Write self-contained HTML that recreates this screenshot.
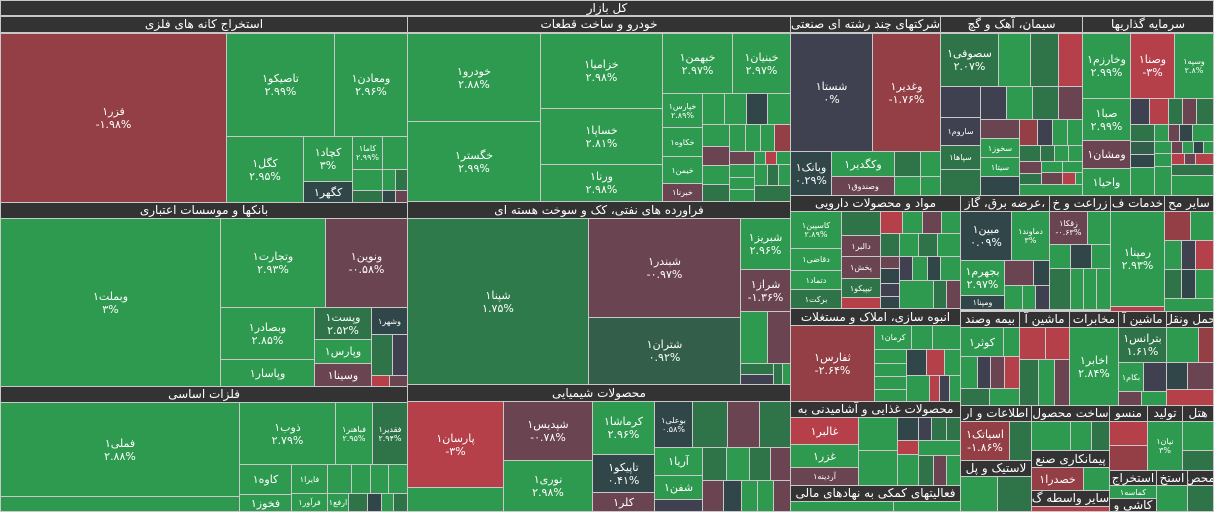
<!DOCTYPE html>
<html><head><meta charset="utf-8">
<style>
body{margin:0;width:1214px;height:512px;overflow:hidden;background:#d0d0d0;font-family:"DejaVu Sans","Noto Sans CJK SC",sans-serif}
.t{position:absolute;box-sizing:border-box;border:1px solid #c8c8c8;color:#fff;display:flex;flex-direction:column;align-items:center;justify-content:center;font-size:11px;line-height:13px;text-align:center;overflow:hidden;background:#2e9a4f;white-space:nowrap}
.h{background:#333;font-size:12px;direction:rtl}
.s{font-size:8px;line-height:9px}
.G{background:#2e9a4f}.D{background:#2f7448}.M{background:#335f4a}.R{background:#933f45}.RR{background:#b5404a}.P{background:#6a4450}.S{background:#3f4150}.T{background:#304649}.F{background:#e03030}
</style></head><body>
<div class="t h" style="left:0;top:0;width:1214px;height:16px">کل بازار</div>

<!-- col1 -->
<div class="t h" style="left:0;top:16px;width:408px;height:17px">استخراج کانه های فلزی</div>
<div class="t R" style="left:0;top:33px;width:227px;height:170px">فزر۱<br>-۱.۹۸%</div>
<div class="t G" style="left:226px;top:33px;width:109px;height:104px">تاصیکو۱<br>۲.۹۹%</div>
<div class="t G" style="left:334px;top:33px;width:74px;height:104px">ومعادن۱<br>۲.۹۶%</div>
<div class="t G" style="left:226px;top:136px;width:78px;height:67px">کگل۱<br>۲.۹۵%</div>
<div class="t G" style="left:303px;top:136px;width:50px;height:46px">کچاد۱<br>۳%</div>
<div class="t T" style="left:303px;top:181px;width:50px;height:22px">کگهر۱</div>
<div class="t G s" style="left:352px;top:136px;width:31px;height:34px">کاما۱<br>۲.۹۹%</div>
<div class="t G" style="left:382px;top:136px;width:26px;height:34px"></div>
<div class="t G" style="left:352px;top:169px;width:31px;height:22px"></div>
<div class="t D" style="left:352px;top:190px;width:31px;height:13px"></div>
<div class="t G" style="left:382px;top:169px;width:14px;height:22px"></div>
<div class="t D" style="left:395px;top:169px;width:13px;height:22px"></div>
<div class="t T" style="left:382px;top:190px;width:14px;height:13px"></div>
<div class="t P" style="left:395px;top:190px;width:13px;height:13px"></div>

<div class="t h" style="left:0;top:202px;width:408px;height:17px">بانکها و موسسات اعتباری</div>
<div class="t G" style="left:0;top:218px;width:221px;height:169px">وبملت۱<br>۳%</div>
<div class="t G" style="left:220px;top:218px;width:106px;height:90px">وتجارت۱<br>۲.۹۳%</div>
<div class="t P" style="left:325px;top:218px;width:83px;height:90px">ونوین۱<br>-۰.۵۸%</div>
<div class="t G" style="left:220px;top:307px;width:95px;height:53px">وبصادر۱<br>۲.۸۵%</div>
<div class="t G" style="left:220px;top:359px;width:95px;height:28px">وپاسار۱</div>
<div class="t D" style="left:314px;top:307px;width:58px;height:33px">وپست۱<br>۲.۵۲%</div>
<div class="t G" style="left:314px;top:339px;width:58px;height:25px">وپارس۱</div>
<div class="t P" style="left:314px;top:363px;width:58px;height:24px">وسینا۱</div>
<div class="t T s" style="left:371px;top:307px;width:37px;height:28px">وشهر۱</div>
<div class="t D" style="left:371px;top:334px;width:22px;height:42px"></div>
<div class="t S" style="left:392px;top:334px;width:16px;height:42px"></div>
<div class="t RR" style="left:371px;top:375px;width:19px;height:12px"></div>
<div class="t P" style="left:389px;top:375px;width:19px;height:12px"></div>

<div class="t h" style="left:0;top:386px;width:408px;height:17px">فلزات اساسی</div>
<div class="t G" style="left:0;top:402px;width:240px;height:95px">فملی۱<br>۲.۸۸%</div>
<div class="t G" style="left:0;top:496px;width:240px;height:16px"></div>
<div class="t G" style="left:239px;top:402px;width:97px;height:63px">ذوب۱<br>۲.۷۹%</div>
<div class="t G s" style="left:335px;top:402px;width:38px;height:63px">فباهنر۱<br>۲.۹۵%</div>
<div class="t D s" style="left:372px;top:402px;width:36px;height:63px">فقدیر۱<br>۲.۹۴%</div>
<div class="t G" style="left:239px;top:464px;width:53px;height:31px">کاوه۱</div>
<div class="t G s" style="left:291px;top:464px;width:37px;height:30px">فایرا۱</div>
<div class="t G" style="left:239px;top:494px;width:53px;height:18px">فخوز۱</div>
<div class="t G s" style="left:291px;top:493px;width:37px;height:19px">فرآور۱</div>
<div class="t G" style="left:327px;top:464px;width:25px;height:30px"></div>
<div class="t G" style="left:351px;top:464px;width:20px;height:30px"></div>
<div class="t G" style="left:370px;top:464px;width:19px;height:30px"></div>
<div class="t G" style="left:388px;top:464px;width:20px;height:30px"></div>
<div class="t G s" style="left:327px;top:493px;width:22px;height:19px">ارفع۱</div>
<div class="t D" style="left:348px;top:493px;width:20px;height:19px"></div>
<div class="t T" style="left:367px;top:493px;width:15px;height:19px"></div>
<div class="t G" style="left:381px;top:493px;width:13px;height:19px"></div>
<div class="t D" style="left:393px;top:493px;width:15px;height:19px"></div>

<!-- col2 -->
<div class="t h" style="left:407px;top:16px;width:384px;height:17px">خودرو و ساخت قطعات</div>
<div class="t G" style="left:407px;top:33px;width:134px;height:89px">خودرو۱<br>۲.۸۸%</div>
<div class="t G" style="left:407px;top:121px;width:134px;height:81px">خگستر۱<br>۲.۹۹%</div>
<div class="t G" style="left:540px;top:33px;width:123px;height:76px">خزامیا۱<br>۲.۹۸%</div>
<div class="t G" style="left:540px;top:108px;width:123px;height:57px">خساپا۱<br>۲.۸۱%</div>
<div class="t G" style="left:540px;top:164px;width:123px;height:38px">ورنا۱<br>۲.۹۸%</div>
<div class="t G" style="left:662px;top:33px;width:71px;height:61px">خبهمن۱<br>۲.۹۷%</div>
<div class="t G" style="left:732px;top:33px;width:59px;height:61px">خبنیان۱<br>۲.۹۷%</div>
<div class="t G s" style="left:662px;top:93px;width:41px;height:35px">خپارس۱<br>۲.۸۹%</div>
<div class="t G s" style="left:662px;top:127px;width:41px;height:30px">خکاوه۱</div>
<div class="t G s" style="left:662px;top:156px;width:41px;height:28px">خیمن۱</div>
<div class="t P s" style="left:662px;top:183px;width:41px;height:19px">خبرنا۱</div>
<div class="t G" style="left:702px;top:93px;width:23px;height:32px"></div>
<div class="t G" style="left:724px;top:93px;width:23px;height:32px"></div>
<div class="t T" style="left:746px;top:93px;width:22px;height:32px"></div>
<div class="t G" style="left:767px;top:93px;width:24px;height:32px"></div>
<div class="t G" style="left:702px;top:124px;width:28px;height:23px"></div>
<div class="t G" style="left:729px;top:124px;width:17px;height:28px"></div>
<div class="t G" style="left:745px;top:124px;width:16px;height:28px"></div>
<div class="t G" style="left:760px;top:124px;width:15px;height:28px"></div>
<div class="t R" style="left:774px;top:124px;width:17px;height:28px"></div>
<div class="t P" style="left:702px;top:146px;width:28px;height:20px"></div>
<div class="t G" style="left:702px;top:165px;width:28px;height:20px"></div>
<div class="t D" style="left:702px;top:184px;width:28px;height:18px"></div>
<div class="t P" style="left:729px;top:151px;width:26px;height:14px"></div>
<div class="t G" style="left:754px;top:151px;width:12px;height:14px"></div>
<div class="t RR" style="left:765px;top:151px;width:12px;height:14px"></div>
<div class="t G" style="left:776px;top:151px;width:15px;height:14px"></div>
<div class="t G" style="left:729px;top:164px;width:26px;height:14px"></div>
<div class="t G" style="left:729px;top:177px;width:26px;height:13px"></div>
<div class="t G" style="left:729px;top:189px;width:26px;height:13px"></div>
<div class="t G" style="left:754px;top:164px;width:14px;height:22px"></div>
<div class="t D" style="left:767px;top:164px;width:12px;height:22px"></div>
<div class="t G" style="left:778px;top:164px;width:13px;height:22px"></div>
<div class="t D" style="left:754px;top:185px;width:37px;height:17px"></div>

<div class="t h" style="left:407px;top:201px;width:384px;height:18px">فراورده های نفتی، کک و سوخت هسته ای</div>
<div class="t D" style="left:407px;top:218px;width:182px;height:167px;background:#2f7a4a">شپنا۱<br>۱.۷۵%</div>
<div class="t P" style="left:588px;top:218px;width:153px;height:100px">شبندر۱<br>-۰.۹۷%</div>
<div class="t M" style="left:588px;top:317px;width:153px;height:68px">شتران۱<br>۰.۹۲%</div>
<div class="t G" style="left:740px;top:218px;width:51px;height:52px">شبریز۱<br>۲.۹۶%</div>
<div class="t P" style="left:740px;top:269px;width:51px;height:43px">شراز۱<br>-۱.۳۶%</div>
<div class="t G" style="left:740px;top:311px;width:28px;height:53px"></div>
<div class="t P" style="left:767px;top:311px;width:24px;height:53px"></div>
<div class="t D" style="left:740px;top:363px;width:34px;height:12px"></div>
<div class="t S" style="left:740px;top:374px;width:34px;height:11px"></div>
<div class="t D" style="left:773px;top:363px;width:10px;height:22px"></div>
<div class="t G" style="left:782px;top:363px;width:9px;height:22px"></div>

<div class="t h" style="left:407px;top:384px;width:384px;height:18px">محصولات شیمیایی</div>
<div class="t RR" style="left:407px;top:401px;width:97px;height:87px">پارسان۱<br>-۳%</div>
<div class="t G" style="left:407px;top:487px;width:97px;height:25px"></div>
<div class="t P" style="left:503px;top:401px;width:90px;height:60px">شپدیس۱<br>-۰.۷۸%</div>
<div class="t G" style="left:503px;top:460px;width:90px;height:52px">نوری۱<br>۲.۹۸%</div>
<div class="t G" style="left:592px;top:401px;width:63px;height:54px">کرماشا۱<br>۲.۹۶%</div>
<div class="t T" style="left:592px;top:454px;width:63px;height:39px">تاپیکو۱<br>۰.۴۱%</div>
<div class="t P" style="left:592px;top:492px;width:63px;height:20px">کلر۱</div>
<div class="t T s" style="left:654px;top:401px;width:39px;height:47px">بوعلی۱<br>۰.۵۸%</div>
<div class="t D" style="left:692px;top:401px;width:36px;height:47px"></div>
<div class="t P" style="left:727px;top:401px;width:33px;height:47px"></div>
<div class="t D" style="left:759px;top:401px;width:32px;height:47px"></div>
<div class="t G" style="left:654px;top:447px;width:49px;height:29px">آریا۱</div>
<div class="t G" style="left:654px;top:475px;width:49px;height:25px">شفن۱</div>
<div class="t S" style="left:654px;top:499px;width:49px;height:13px"></div>
<div class="t D" style="left:702px;top:447px;width:25px;height:34px"></div>
<div class="t G" style="left:726px;top:447px;width:24px;height:34px"></div>
<div class="t D" style="left:749px;top:447px;width:22px;height:34px"></div>
<div class="t P" style="left:770px;top:447px;width:21px;height:34px"></div>
<div class="t P" style="left:702px;top:480px;width:22px;height:32px"></div>
<div class="t T" style="left:723px;top:480px;width:19px;height:32px"></div>
<div class="t G" style="left:741px;top:480px;width:17px;height:32px"></div>
<div class="t G" style="left:757px;top:480px;width:17px;height:32px"></div>
<div class="t P" style="left:773px;top:480px;width:18px;height:32px"></div>

<!-- col3 top -->
<div class="t h" style="left:790px;top:16px;width:151px;height:17px">شرکتهای چند رشته ای صنعتی</div>
<div class="t S" style="left:790px;top:33px;width:83px;height:119px">شستا۱<br>۰%</div>
<div class="t R" style="left:872px;top:33px;width:69px;height:119px">وغدیر۱<br>-۱.۷۶%</div>
<div class="t T" style="left:790px;top:151px;width:42px;height:45px">وبانک۱<br>۰.۲۹%</div>
<div class="t G" style="left:831px;top:151px;width:64px;height:26px">وکگدیر۱</div>
<div class="t P s" style="left:831px;top:176px;width:64px;height:20px">وصندوق۱</div>
<div class="t D" style="left:894px;top:151px;width:27px;height:26px"></div>
<div class="t G" style="left:920px;top:151px;width:21px;height:26px"></div>
<div class="t G" style="left:894px;top:176px;width:27px;height:20px"></div>
<div class="t G" style="left:920px;top:176px;width:21px;height:20px"></div>

<div class="t h" style="left:940px;top:16px;width:143px;height:17px">سیمان، آهک و گچ</div>
<div class="t D" style="left:940px;top:33px;width:59px;height:54px">سصوفی۱<br>۲.۰۷%</div>
<div class="t G" style="left:998px;top:33px;width:33px;height:54px"></div>
<div class="t D" style="left:1030px;top:33px;width:29px;height:54px"></div>
<div class="t RR" style="left:1058px;top:33px;width:25px;height:54px"></div>
<div class="t S" style="left:940px;top:86px;width:41px;height:32px"></div>
<div class="t S" style="left:980px;top:86px;width:27px;height:34px"></div>
<div class="t G" style="left:1006px;top:86px;width:27px;height:34px"></div>
<div class="t D" style="left:1032px;top:86px;width:27px;height:34px"></div>
<div class="t P" style="left:1058px;top:86px;width:25px;height:34px"></div>
<div class="t S s" style="left:940px;top:117px;width:41px;height:29px">ساروم۱</div>
<div class="t D s" style="left:940px;top:145px;width:41px;height:25px">سپاها۱</div>
<div class="t D" style="left:940px;top:169px;width:41px;height:27px"></div>
<div class="t P" style="left:980px;top:119px;width:40px;height:20px"></div>
<div class="t G s" style="left:980px;top:138px;width:40px;height:20px">سخوز۱</div>
<div class="t G s" style="left:980px;top:157px;width:40px;height:20px">سیتا۱</div>
<div class="t T" style="left:980px;top:176px;width:40px;height:20px"></div>
<div class="t R" style="left:1019px;top:119px;width:19px;height:27px"></div>
<div class="t S" style="left:1037px;top:119px;width:16px;height:27px"></div>
<div class="t G" style="left:1052px;top:119px;width:16px;height:27px"></div>
<div class="t G" style="left:1067px;top:119px;width:16px;height:27px"></div>
<div class="t D" style="left:1019px;top:145px;width:22px;height:17px"></div>
<div class="t D" style="left:1040px;top:145px;width:15px;height:17px"></div>
<div class="t G" style="left:1054px;top:145px;width:15px;height:17px"></div>
<div class="t G" style="left:1068px;top:145px;width:15px;height:17px"></div>
<div class="t P" style="left:1019px;top:161px;width:23px;height:13px"></div>
<div class="t D" style="left:1019px;top:173px;width:23px;height:12px"></div>
<div class="t G" style="left:1041px;top:161px;width:22px;height:12px"></div>
<div class="t P" style="left:1041px;top:172px;width:22px;height:13px"></div>
<div class="t G" style="left:1062px;top:161px;width:21px;height:12px"></div>
<div class="t RR" style="left:1062px;top:172px;width:14px;height:13px"></div>
<div class="t G" style="left:1075px;top:172px;width:8px;height:13px"></div>
<div class="t G" style="left:1019px;top:184px;width:64px;height:12px"></div>

<div class="t h" style="left:1082px;top:16px;width:132px;height:17px">سرمایه گذاریها</div>
<div class="t G" style="left:1082px;top:33px;width:49px;height:66px">وخارزم۱<br>۲.۹۹%</div>
<div class="t RR" style="left:1130px;top:33px;width:45px;height:66px">وصنا۱<br>-۳%</div>
<div class="t G s" style="left:1174px;top:33px;width:40px;height:66px">وسپه۱<br>۲.۸%</div>
<div class="t G" style="left:1082px;top:98px;width:49px;height:43px">صبا۱<br>۲.۹۹%</div>
<div class="t P" style="left:1082px;top:140px;width:49px;height:29px">ومشان۱</div>
<div class="t G" style="left:1082px;top:168px;width:49px;height:28px">واحیا۱</div>
<div class="t S" style="left:1130px;top:98px;width:20px;height:27px"></div>
<div class="t RR" style="left:1149px;top:98px;width:20px;height:27px"></div>
<div class="t D" style="left:1168px;top:98px;width:15px;height:27px"></div>
<div class="t P" style="left:1182px;top:98px;width:15px;height:27px"></div>
<div class="t D" style="left:1196px;top:98px;width:18px;height:27px"></div>
<div class="t D" style="left:1130px;top:124px;width:25px;height:18px"></div>
<div class="t M" style="left:1130px;top:141px;width:25px;height:14px"></div>
<div class="t T" style="left:1130px;top:154px;width:25px;height:14px"></div>
<div class="t G" style="left:1130px;top:167px;width:25px;height:29px"></div>
<div class="t G" style="left:1154px;top:124px;width:15px;height:18px"></div>
<div class="t P" style="left:1168px;top:124px;width:12px;height:18px"></div>
<div class="t T" style="left:1179px;top:124px;width:14px;height:18px"></div>
<div class="t G" style="left:1192px;top:124px;width:22px;height:18px"></div>
<div class="t G" style="left:1154px;top:141px;width:18px;height:13px"></div>
<div class="t P" style="left:1171px;top:141px;width:12px;height:13px"></div>
<div class="t G" style="left:1182px;top:141px;width:12px;height:13px"></div>
<div class="t T" style="left:1193px;top:141px;width:11px;height:13px"></div>
<div class="t G" style="left:1203px;top:141px;width:11px;height:13px"></div>
<div class="t G" style="left:1154px;top:153px;width:18px;height:14px"></div>
<div class="t G" style="left:1154px;top:166px;width:18px;height:30px"></div>
<div class="t RR" style="left:1171px;top:153px;width:14px;height:12px"></div>
<div class="t P" style="left:1184px;top:153px;width:12px;height:12px"></div>
<div class="t RR" style="left:1195px;top:153px;width:19px;height:12px"></div>
<div class="t D" style="left:1171px;top:164px;width:43px;height:12px"></div>
<div class="t G" style="left:1171px;top:175px;width:43px;height:21px"></div>

<!-- row2 col3 -->
<div class="t h" style="left:790px;top:195px;width:171px;height:17px">مواد و محصولات دارویی</div>
<div class="t G s" style="left:790px;top:211px;width:52px;height:38px">کاسپین۱<br>۲.۸۹%</div>
<div class="t G s" style="left:790px;top:248px;width:52px;height:23px">دقاضی۱</div>
<div class="t G s" style="left:790px;top:270px;width:52px;height:20px">دتماد۱</div>
<div class="t D s" style="left:790px;top:289px;width:52px;height:20px">برکت۱</div>
<div class="t D" style="left:841px;top:211px;width:40px;height:25px"></div>
<div class="t P s" style="left:841px;top:235px;width:40px;height:22px">دالبر۱</div>
<div class="t P s" style="left:841px;top:256px;width:40px;height:23px">پخش۱</div>
<div class="t D s" style="left:841px;top:278px;width:40px;height:20px">تیپیکو۱</div>
<div class="t RR" style="left:841px;top:297px;width:40px;height:12px"></div>
<div class="t RR" style="left:880px;top:211px;width:23px;height:23px"></div>
<div class="t G" style="left:902px;top:211px;width:21px;height:23px"></div>
<div class="t P" style="left:922px;top:211px;width:20px;height:23px"></div>
<div class="t G" style="left:941px;top:211px;width:20px;height:23px"></div>
<div class="t D" style="left:880px;top:233px;width:20px;height:24px"></div>
<div class="t G" style="left:899px;top:233px;width:20px;height:24px"></div>
<div class="t D" style="left:918px;top:233px;width:20px;height:24px"></div>
<div class="t G" style="left:937px;top:233px;width:24px;height:24px"></div>
<div class="t P" style="left:880px;top:256px;width:20px;height:13px"></div>
<div class="t S" style="left:899px;top:256px;width:14px;height:25px"></div>
<div class="t G" style="left:912px;top:256px;width:16px;height:25px"></div>
<div class="t T" style="left:927px;top:256px;width:14px;height:25px"></div>
<div class="t G" style="left:940px;top:256px;width:21px;height:25px"></div>
<div class="t T" style="left:880px;top:268px;width:20px;height:16px"></div>
<div class="t S" style="left:880px;top:283px;width:20px;height:14px"></div>
<div class="t T" style="left:880px;top:296px;width:20px;height:13px"></div>
<div class="t G" style="left:899px;top:280px;width:35px;height:29px"></div>
<div class="t D" style="left:933px;top:280px;width:14px;height:29px"></div>
<div class="t P" style="left:946px;top:280px;width:15px;height:29px"></div>

<div class="t h" style="left:790px;top:308px;width:171px;height:18px">انبوه سازی، املاک و مستغلات</div>
<div class="t R" style="left:790px;top:325px;width:85px;height:77px">ثفارس۱<br>-۲.۶۴%</div>
<div class="t G s" style="left:874px;top:325px;width:38px;height:25px">کرمان۱</div>
<div class="t G" style="left:911px;top:325px;width:22px;height:25px"></div>
<div class="t G" style="left:932px;top:325px;width:29px;height:25px"></div>
<div class="t G" style="left:874px;top:349px;width:33px;height:15px"></div>
<div class="t G" style="left:874px;top:363px;width:33px;height:14px"></div>
<div class="t G" style="left:874px;top:376px;width:33px;height:14px"></div>
<div class="t G" style="left:874px;top:389px;width:33px;height:13px"></div>
<div class="t T" style="left:906px;top:349px;width:21px;height:27px"></div>
<div class="t RR" style="left:926px;top:349px;width:19px;height:27px"></div>
<div class="t G" style="left:944px;top:349px;width:17px;height:27px"></div>
<div class="t G" style="left:906px;top:375px;width:24px;height:27px"></div>
<div class="t RR" style="left:929px;top:375px;width:11px;height:27px"></div>
<div class="t S" style="left:939px;top:375px;width:11px;height:27px"></div>
<div class="t G" style="left:949px;top:375px;width:12px;height:27px"></div>

<div class="t h" style="left:790px;top:401px;width:171px;height:17px">محصولات غذایی و آشامیدنی به</div>
<div class="t RR" style="left:790px;top:417px;width:69px;height:28px">غالبر۱</div>
<div class="t G" style="left:790px;top:444px;width:69px;height:24px">غزر۱</div>
<div class="t P s" style="left:790px;top:467px;width:69px;height:19px">آردینه۱</div>
<div class="t G" style="left:858px;top:417px;width:40px;height:34px"></div>
<div class="t T" style="left:897px;top:417px;width:22px;height:24px"></div>
<div class="t S" style="left:918px;top:417px;width:14px;height:24px"></div>
<div class="t D" style="left:931px;top:417px;width:16px;height:24px"></div>
<div class="t D" style="left:946px;top:417px;width:15px;height:24px"></div>
<div class="t G" style="left:858px;top:450px;width:40px;height:36px"></div>
<div class="t RR" style="left:897px;top:440px;width:22px;height:15px"></div>
<div class="t G" style="left:897px;top:454px;width:22px;height:32px"></div>
<div class="t G" style="left:918px;top:440px;width:43px;height:16px"></div>
<div class="t D" style="left:918px;top:455px;width:16px;height:31px"></div>
<div class="t P" style="left:933px;top:455px;width:14px;height:31px"></div>
<div class="t G" style="left:946px;top:455px;width:15px;height:31px"></div>
<div class="t h" style="left:790px;top:485px;width:171px;height:17px">فعالیتهای کمکی به نهادهای مالی</div>
<div class="t G" style="left:790px;top:501px;width:104px;height:11px"></div>
<div class="t G" style="left:893px;top:501px;width:68px;height:11px"></div>

<!-- row2 right -->
<div class="t h" style="left:960px;top:195px;width:90px;height:17px">،عرضه برق، گاز</div>
<div class="t T" style="left:960px;top:211px;width:52px;height:50px">مبین۱<br>۰.۰۹%</div>
<div class="t G s" style="left:1011px;top:211px;width:39px;height:50px">دماوند۱<br>۳%</div>
<div class="t G" style="left:960px;top:260px;width:45px;height:36px">بجهرم۱<br>۲.۹۷%</div>
<div class="t T s" style="left:960px;top:295px;width:45px;height:15px">ومپنا۱</div>
<div class="t P" style="left:1004px;top:260px;width:30px;height:26px"></div>
<div class="t T" style="left:1033px;top:260px;width:17px;height:26px"></div>
<div class="t G" style="left:1004px;top:285px;width:19px;height:25px"></div>
<div class="t G" style="left:1022px;top:285px;width:14px;height:25px"></div>
<div class="t S" style="left:1035px;top:285px;width:15px;height:25px"></div>

<div class="t h" style="left:1049px;top:195px;width:62px;height:17px">زراعت و خ</div>
<div class="t P s" style="left:1049px;top:211px;width:39px;height:34px">زقکا۱<br>-۰.۶۳%</div>
<div class="t G" style="left:1087px;top:211px;width:24px;height:34px"></div>
<div class="t G" style="left:1049px;top:244px;width:22px;height:25px"></div>
<div class="t T" style="left:1070px;top:244px;width:22px;height:25px"></div>
<div class="t G" style="left:1091px;top:244px;width:20px;height:25px"></div>
<div class="t D" style="left:1049px;top:268px;width:22px;height:42px"></div>
<div class="t G" style="left:1070px;top:268px;width:14px;height:42px"></div>
<div class="t G" style="left:1083px;top:268px;width:14px;height:42px"></div>
<div class="t G" style="left:1096px;top:268px;width:15px;height:42px"></div>

<div class="t h" style="left:1110px;top:195px;width:55px;height:17px">خدمات ف</div>
<div class="t G" style="left:1110px;top:211px;width:55px;height:96px">رمپنا۱<br>۲.۹۳%</div>
<div class="t RR" style="left:1110px;top:306px;width:55px;height:6px"></div>
<div class="t h" style="left:1164px;top:195px;width:50px;height:17px">سایر مح</div>
<div class="t R" style="left:1164px;top:211px;width:27px;height:30px"></div>
<div class="t G" style="left:1190px;top:211px;width:24px;height:30px"></div>
<div class="t G" style="left:1164px;top:240px;width:18px;height:30px"></div>
<div class="t S" style="left:1181px;top:240px;width:15px;height:30px"></div>
<div class="t RR" style="left:1195px;top:240px;width:19px;height:30px"></div>
<div class="t D" style="left:1164px;top:269px;width:18px;height:30px"></div>
<div class="t T" style="left:1181px;top:269px;width:15px;height:30px"></div>
<div class="t G" style="left:1195px;top:269px;width:19px;height:30px"></div>
<div class="t G" style="left:1164px;top:298px;width:50px;height:14px"></div>

<!-- row3 right -->
<div class="t h" style="left:960px;top:311px;width:60px;height:17px">بیمه وصند</div>
<div class="t G" style="left:960px;top:327px;width:44px;height:30px">کوثر۱</div>
<div class="t G" style="left:1003px;top:327px;width:17px;height:30px"></div>
<div class="t G" style="left:960px;top:356px;width:18px;height:33px"></div>
<div class="t S" style="left:977px;top:356px;width:14px;height:33px"></div>
<div class="t P" style="left:990px;top:356px;width:15px;height:33px"></div>
<div class="t RR" style="left:1004px;top:356px;width:16px;height:33px"></div>
<div class="t D" style="left:960px;top:388px;width:30px;height:18px"></div>
<div class="t G" style="left:989px;top:388px;width:31px;height:18px"></div>
<div class="t h" style="left:1019px;top:311px;width:51px;height:17px">ماشین آ</div>
<div class="t RR" style="left:1019px;top:327px;width:27px;height:33px"></div>
<div class="t RR" style="left:1045px;top:327px;width:25px;height:33px"></div>
<div class="t D" style="left:1019px;top:359px;width:20px;height:47px"></div>
<div class="t G" style="left:1038px;top:359px;width:17px;height:47px"></div>
<div class="t P" style="left:1054px;top:359px;width:16px;height:47px"></div>
<div class="t h" style="left:1069px;top:311px;width:50px;height:17px">مخابرات</div>
<div class="t G" style="left:1069px;top:327px;width:50px;height:79px">اخابر۱<br>۲.۸۴%</div>
<div class="t h" style="left:1118px;top:311px;width:49px;height:17px">ماشین آ</div>
<div class="t D" style="left:1118px;top:327px;width:49px;height:36px">بترانس۱<br>۱.۶۱%</div>
<div class="t G s" style="left:1118px;top:362px;width:26px;height:30px">بکام۱</div>
<div class="t S" style="left:1143px;top:362px;width:24px;height:30px"></div>
<div class="t P" style="left:1118px;top:391px;width:24px;height:15px"></div>
<div class="t G" style="left:1141px;top:391px;width:26px;height:15px"></div>
<div class="t h" style="left:1166px;top:311px;width:48px;height:17px">حمل ونقل</div>
<div class="t G" style="left:1166px;top:327px;width:33px;height:36px"></div>
<div class="t R" style="left:1198px;top:327px;width:16px;height:36px"></div>
<div class="t T" style="left:1166px;top:362px;width:22px;height:28px"></div>
<div class="t P" style="left:1187px;top:362px;width:27px;height:28px"></div>
<div class="t RR" style="left:1166px;top:389px;width:48px;height:17px"></div>

<!-- row4 right -->
<div class="t h" style="left:960px;top:405px;width:72px;height:17px">اطلاعات و ار</div>
<div class="t R" style="left:960px;top:421px;width:50px;height:40px">اسیاتک۱<br>-۱.۸۶%</div>
<div class="t D" style="left:1009px;top:421px;width:23px;height:40px"></div>
<div class="t h" style="left:960px;top:460px;width:72px;height:17px">لاستیک و پل</div>
<div class="t G" style="left:960px;top:476px;width:38px;height:36px"></div>
<div class="t D" style="left:997px;top:476px;width:35px;height:36px"></div>
<div class="t h" style="left:1031px;top:405px;width:79px;height:17px">ساخت محصول</div>
<div class="t G" style="left:1031px;top:421px;width:40px;height:30px"></div>
<div class="t G" style="left:1070px;top:421px;width:22px;height:30px"></div>
<div class="t D" style="left:1091px;top:421px;width:19px;height:30px"></div>
<div class="t h" style="left:1031px;top:450px;width:79px;height:18px">پیمانکاری صنع</div>
<div class="t R" style="left:1031px;top:467px;width:53px;height:25px">خصدرا۱</div>
<div class="t G" style="left:1083px;top:467px;width:27px;height:25px"></div>
<div class="t h" style="left:1031px;top:490px;width:79px;height:17px">سایر واسطه گ</div>
<div class="t RR" style="left:1031px;top:506px;width:79px;height:6px"></div>
<div class="t h" style="left:1109px;top:405px;width:39px;height:17px">منسو</div>
<div class="t RR" style="left:1109px;top:421px;width:39px;height:25px"></div>
<div class="t R" style="left:1109px;top:445px;width:39px;height:26px"></div>
<div class="t h" style="left:1147px;top:405px;width:36px;height:17px">تولید</div>
<div class="t G s" style="left:1147px;top:421px;width:36px;height:50px">نیان۱<br>۳%</div>
<div class="t h" style="left:1182px;top:405px;width:32px;height:17px">هتل</div>
<div class="t G" style="left:1182px;top:421px;width:32px;height:30px"></div>
<div class="t D" style="left:1182px;top:450px;width:32px;height:21px"></div>
<div class="t h" style="left:1109px;top:470px;width:48px;height:16px">استخراج</div>
<div class="t G s" style="left:1109px;top:485px;width:48px;height:14px">کماسه۱</div>
<div class="t h" style="left:1109px;top:498px;width:48px;height:14px">کاشی و</div>
<div class="t h" style="left:1156px;top:470px;width:32px;height:16px">استخ</div>
<div class="t G" style="left:1156px;top:485px;width:32px;height:27px"></div>
<div class="t h" style="left:1187px;top:470px;width:27px;height:16px">محص</div>
<div class="t D" style="left:1187px;top:485px;width:27px;height:27px"></div>
</body></html>
